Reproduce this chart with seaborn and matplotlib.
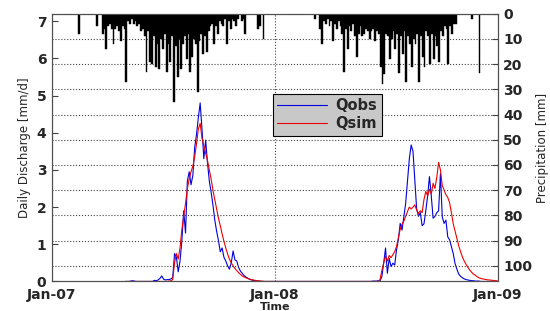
import matplotlib
matplotlib.use("Agg")
import matplotlib.pyplot as plt
from matplotlib.lines import Line2D
import seaborn as sns
import pandas as pd

# precipitation [mm], one value every 3 days
rain_07_start = "2007-02-14"
rain_07 = [8, 0, 0, 0, 0, 0, 0, 0, 0, 0, 5, 0, 0,
           8, 6, 14, 5, 4, 6, 12, 6, 5, 7,
           11, 5, 6, 27, 3, 4, 2, 4, 3, 5,
           4, 7, 6, 9, 23, 7, 19, 20, 9, 21,
           12, 22, 10, 14, 8, 23, 12, 19, 9, 35,
           13, 25, 10, 22, 12, 9, 18, 8, 23, 17,
           10, 12, 31, 11, 8, 16, 9, 15, 7, 5,
           4, 12, 5, 8, 3, 4, 5, 2, 12, 3,
           6, 2, 3, 5, 2, 0, 3, 2, 8, 0,
           0, 0, 0, 0, 0, 6, 5, 0, 10]
rain_08_start = "2008-03-07"
rain_08 = [2, 0, 0, 6, 12, 3, 4, 2, 5, 3,
           11, 4, 6, 3, 5, 8, 23, 6, 14, 5,
           7, 4, 9, 17, 8, 5, 9, 8, 6, 7,
           10, 7, 6, 11, 7, 8, 21, 28, 24, 8,
           9, 18, 10, 7, 14, 8, 23.5, 9, 16, 7,
           27, 9, 12, 21, 10, 12, 8, 27, 9, 17,
           21, 7, 9, 20, 8, 18, 9, 13, 19, 7,
           9, 5, 6, 20, 5, 8, 4, 4, 0, 0,
           0, 0, 0, 0, 0, 0, 2, 0, 0, 0, 23.5]

# discharge [mm/d], one value every 3 days
q_07_start = "2007-05-01"
qobs_07 = [0, 0, 0, 0.01, 0.02, 0.01, 0, 0, 0, 0,
           0, 0, 0, 0, 0, 0, 0.03, 0.02, 0.04, 0.08,
           0.15, 0.06, 0.04, 0.05, 0.05, 0.07, 0.1, 0.75, 0.65, 0.26,
           0.55, 1.1, 1.9, 1.3, 2.7, 2.95, 2.6, 2.85, 3.6, 3.95,
           4.4, 4.8, 4.1, 3.3, 3.8, 3.2, 2.7, 2.4, 2.05, 1.65,
           1.35, 1.1, 0.8, 0.9, 0.65, 0.55, 0.42, 0.33, 0.5, 0.82,
           0.58, 0.55, 0.38, 0.28, 0.22, 0.16, 0.12, 0.09, 0.06, 0.04,
           0.03, 0.02, 0.01, 0.01, 0, 0, 0, 0, 0, 0,
           0, 0]
qsim_07 = [0, 0, 0, 0, 0, 0, 0, 0, 0, 0,
           0, 0, 0, 0, 0, 0, 0, 0, 0, 0,
           0, 0, 0, 0, 0.01, 0.02, 0.05, 0.5, 0.75, 0.6,
           0.9, 1.4, 1.75, 2.1, 2.5, 2.75, 2.95, 3.1, 3.35, 3.7,
           4.1, 4.25, 3.85, 3.65, 3.45, 3.25, 3.0, 2.75, 2.45, 2.2,
           1.95, 1.7, 1.5, 1.28, 1.08, 0.9, 0.74, 0.6, 0.5, 0.42,
           0.35, 0.29, 0.24, 0.19, 0.15, 0.12, 0.1, 0.08, 0.06, 0.05,
           0.04, 0.03, 0.02, 0.02, 0.01, 0.01, 0, 0, 0, 0,
           0, 0]
q_08_start = "2008-06-01"
qobs_08 = [0, 0, 0, 0.01, 0.01, 0.01, 0.02, 0.02, 0.13, 0.5,
           0.9, 0.22, 0.62, 0.4, 0.49, 0.44, 0.85, 1.12, 1.56, 1.38,
           1.75, 2.1, 2.7, 3.3, 3.67, 3.5, 2.73, 1.95, 1.75, 1.85,
           1.5, 1.55, 1.9, 2.3, 2.82, 2.3, 1.7, 1.75, 1.85, 1.9,
           2.9, 1.74, 1.56, 1.65, 1.2, 1.12, 0.94, 0.75, 0.48, 0.33,
           0.2, 0.14, 0.1, 0.07, 0.05, 0.04, 0.03, 0.02, 0.02, 0.01,
           0.01, 0.01, 0, 0, 0, 0, 0, 0, 0, 0,
           0, 0]
qsim_08 = [0, 0, 0, 0, 0, 0, 0, 0.05, 0.3, 0.5,
           0.67, 0.55, 0.7, 0.64, 0.72, 0.8, 0.94, 1.17, 1.4, 1.54,
           1.62, 1.75, 1.88, 2.0, 1.95, 2.0, 2.06, 1.92, 1.83, 1.9,
           1.85, 2.2, 2.42, 2.3, 2.48, 2.35, 2.64, 2.5, 2.8, 3.2,
           3.0, 2.58, 2.46, 2.33, 2.26, 2.12, 1.85, 1.55, 1.35, 1.14,
           0.96, 0.8, 0.66, 0.55, 0.46, 0.38, 0.31, 0.25, 0.2, 0.17,
           0.13, 0.1, 0.08, 0.07, 0.06, 0.05, 0.04, 0.04, 0.03, 0.03,
           0.02, 0.02]

tick_dates = ["2007-01-01", "2008-01-01", "2009-01-01"]
tick_labels = ["Jan-07", "Jan-08", "Jan-09"]

sns.set_style("white")
plt.rcParams["font.family"] = ["DejaVu Sans"]

d07 = pd.date_range(q_07_start, periods=len(qobs_07), freq="3D")
d08 = pd.date_range(q_08_start, periods=len(qobs_08), freq="3D")
dates = list(d07) + list(d08)
df = pd.concat([
    pd.DataFrame({"date": dates, "q": qobs_07 + qobs_08, "series": "Qobs"}),
    pd.DataFrame({"date": dates, "q": qsim_07 + qsim_08, "series": "Qsim"}),
])
colors = {"Qobs": "#0000e0", "Qsim": "#ee0000"}

rain_dates = list(pd.date_range(rain_07_start, periods=len(rain_07), freq="3D")) + \
    list(pd.date_range(rain_08_start, periods=len(rain_08), freq="3D"))
rain = rain_07 + rain_08

fig = plt.figure(figsize=(5.5, 3.11), dpi=100)
ax = fig.add_axes([0.0945, 0.095, 0.8105, 0.861])
sns.lineplot(data=df, x="date", y="q", hue="series", palette=colors,
             linewidth=0.8, legend=False, ax=ax)

ax.set_xlim(pd.Timestamp("2007-01-01"), pd.Timestamp("2009-01-01"))
ax.set_ylim(0, 7.2)
ax.set_yticks(range(0, 8))
ax.set_xticks(pd.to_datetime(tick_dates))
ax.set_xticklabels(tick_labels)
ax.tick_params(direction="in", length=4, color="#404040", right=True,
               labelsize=10, pad=4)
ax.tick_params(axis="x", pad=5)
for lab in ax.get_xticklabels() + ax.get_yticklabels():
    lab.set_fontweight("bold")
ax.grid(axis="x", linestyle=":", color="#444444", linewidth=0.8)
ax.set_ylabel("Daily Discharge [mm/d]", fontsize=8.5, labelpad=4)
ax.set_xlabel("Time", fontsize=8, fontweight="bold", labelpad=-0.5)

ax2 = ax.twinx()
ax2.bar(rain_dates, rain, width=3.0, color="black", edgecolor="black",
        linewidth=0.3)
ax2.set_ylim(106.2, 0)
ax2.set_yticks(range(0, 101, 10))
ax2.tick_params(direction="in", length=4, color="#404040", labelsize=10, pad=4)
for lab in ax2.get_yticklabels():
    lab.set_fontweight("bold")
ax2.grid(axis="y", linestyle=":", color="#444444", linewidth=0.8)
ax2.set_ylabel("Precipitation [mm]", fontsize=8.5, labelpad=3)

for a in (ax, ax2):
    for s in a.spines.values():
        s.set_color("#505050")
        s.set_linewidth(0.8)

handles = [Line2D([], [], color=colors[k], linewidth=0.8) for k in colors]
leg = ax2.legend(handles, list(colors), loc="upper left",
                 bbox_to_anchor=(0.4955, 0.70), borderaxespad=0,
                 handlelength=3.4, fancybox=False, framealpha=1,
                 facecolor="#c8c8c8", edgecolor="black",
                 prop={"weight": "bold", "size": 10.5},
                 labelspacing=0.2, borderpad=0.3, handletextpad=0.6)
leg.get_frame().set_linewidth(0.8)

fig.savefig("out.png", dpi=100)
